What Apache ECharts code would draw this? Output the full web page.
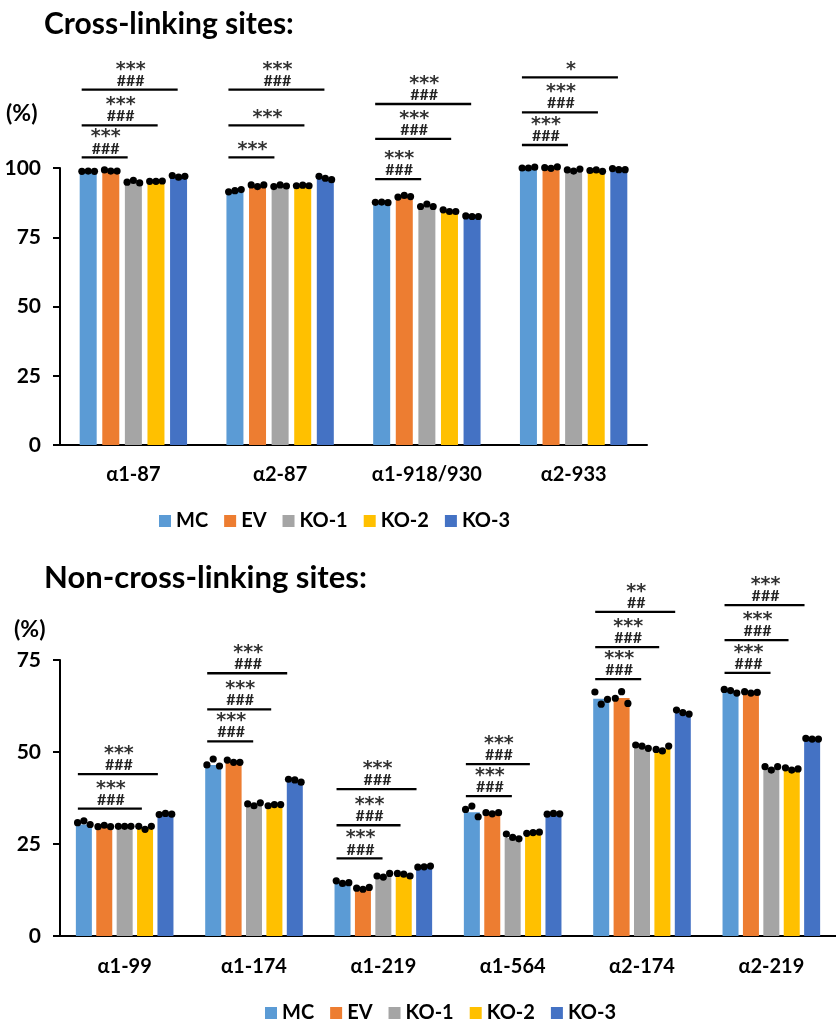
<!DOCTYPE html>
<html>
<head>
<meta charset="utf-8">
<script src="https://cdn.jsdelivr.net/npm/echarts@6/dist/echarts.min.js"></script>
<style>
html,body{margin:0;padding:0;background:#fff;}
#chart{width:836px;height:1021px;}
</style>
</head>
<body>
<div id="chart"></div>
<script>
// ---------- DATA ----------
const groups = ['MC', 'EV', 'KO-1', 'KO-2', 'KO-3'];
const colors = ['#5B9BD5', '#ED7D31', '#A5A5A5', '#FFC000', '#4472C4'];

// Cross-linking sites
const crossCats = ['α1-87', 'α2-87', 'α1-918/930', 'α2-933'];
const crossTicks = [0, 25, 50, 75, 100];
const crossMC  = [98.8, 91.8, 87.6, 99.7];
const crossEV  = [98.9, 93.7, 89.7, 99.6];
const crossKO1 = [94.8, 93.5, 86.3, 99.0];
const crossKO2 = [95.0, 93.5, 84.4, 98.9];
const crossKO3 = [97.0, 96.3, 82.5, 99.2];
const crossRepMC  = [[98.8, 98.9, 98.8], [91.4, 91.8, 92.2], [87.6, 87.7, 87.5], [100.0, 100.0, 100.3]];
const crossRepEV  = [[99.3, 98.9, 98.9], [93.9, 93.3, 93.9], [89.5, 90.1, 89.7], [100.1, 99.9, 100.4]];
const crossRepKO1 = [[94.9, 95.5, 94.6], [93.3, 93.9, 93.5], [86.1, 87.0, 86.1], [99.3, 98.9, 99.6]];
const crossRepKO2 = [[95.2, 95.2, 95.3], [93.6, 93.8, 93.6], [84.9, 84.3, 84.3], [99.1, 99.3, 98.8]];
const crossRepKO3 = [[97.3, 96.7, 97.0], [97.0, 96.3, 95.8], [82.7, 82.5, 82.5], [99.8, 99.4, 99.4]];
// significance brackets: [category index, target group index, bracket height (%), label]
const crossSig = [
  [0, 2, 103.8, '***\n###'], [0, 3, 115.4, '***\n###'], [0, 4, 128.3, '***\n###'],
  [1, 2, 103.8, '***'],      [1, 3, 115.4, '***'],      [1, 4, 128.3, '***\n###'],
  [2, 2, 96.0, '***\n###'],  [2, 3, 110.5, '***\n###'], [2, 4, 123.1, '***\n###'],
  [3, 2, 108.3, '***\n###'], [3, 3, 120.1, '***\n###'], [3, 4, 132.7, '*']
];

// Non-cross-linking sites
const nonCats = ['α1-99', 'α1-174', 'α1-219', 'α1-564', 'α2-174', 'α2-219'];
const nonTicks = [0, 25, 50, 75];
const nonMC  = [30.3, 46.5, 14.6, 33.6, 64.5, 66.6];
const nonEV  = [29.7, 47.2, 12.9, 33.1, 64.7, 66.1];
const nonKO1 = [29.8, 35.6, 16.4, 26.6, 51.4, 45.6];
const nonKO2 = [29.4, 35.4, 16.6, 27.8, 50.9, 45.3];
const nonKO3 = [33.0, 42.0, 18.7, 33.0, 60.6, 53.5];
const nonRepMC  = [[30.8, 31.3, 30.3], [46.5, 48.1, 46.2], [15.0, 14.3, 14.5], [34.4, 35.3, 32.4], [66.3, 63.0, 64.3], [67.0, 66.7, 66.0]];
const nonRepEV  = [[29.7, 30.1, 29.7], [47.8, 47.2, 47.2], [13.0, 12.7, 13.2], [33.5, 33.2, 33.5], [64.6, 66.4, 63.2], [66.4, 66.0, 66.2]];
const nonRepKO1 = [[29.8, 29.8, 29.8], [35.9, 35.4, 36.2], [16.3, 16.0, 17.0], [27.7, 26.8, 26.4], [51.9, 51.6, 51.0], [46.0, 45.1, 46.0]];
const nonRepKO2 = [[29.8, 29.0, 29.8], [35.4, 35.7, 35.7], [17.0, 16.8, 16.3], [27.9, 28.1, 28.2], [50.7, 50.3, 51.6], [45.7, 45.1, 45.4]];
const nonRepKO3 = [[33.0, 33.3, 33.1], [42.6, 42.4, 41.8], [18.7, 18.8, 19.0], [33.1, 33.3, 33.2], [61.4, 60.7, 60.3], [53.7, 53.5, 53.5]];
const nonSig = [
  [0, 3, 34.6, '***\n###'], [0, 4, 44.0, '***\n###'],
  [1, 2, 52.9, '***\n###'], [1, 3, 61.6, '***\n###'], [1, 4, 71.4, '***\n###'],
  [2, 2, 21.1, '***\n###'], [2, 3, 30.1, '***\n###'], [2, 4, 39.9, '***\n###'],
  [3, 2, 38.0, '***\n###'], [3, 3, 46.7, '***\n###'],
  [4, 2, 69.8, '***\n###'], [4, 3, 78.5, '***\n###'], [4, 4, 88.1, '**\n##'],
  [5, 2, 71.5, '***\n###'], [5, 3, 80.4, '***\n###'], [5, 4, 89.9, '***\n###']
];

// ---------- LAYOUT / STYLE ----------
const FONT = 'Lato';
const panels = [
  { cats: crossCats, ticks: crossTicks, max: 100,
    bars: [crossMC, crossEV, crossKO1, crossKO2, crossKO3],
    reps: [crossRepMC, crossRepEV, crossRepKO1, crossRepKO2, crossRepKO3],
    sig: crossSig,
    barW: 17, gapPx: 5.6, endOff: {2: 46, 3: 76, 4: 96},
    grid: { left: 60, top: 168, width: 587, height: 277 } },
  { cats: nonCats, ticks: nonTicks, max: 75,
    bars: [nonMC, nonEV, nonKO1, nonKO2, nonKO3],
    reps: [nonRepMC, nonRepEV, nonRepKO1, nonRepKO2, nonRepKO3],
    sig: nonSig,
    barW: 16, gapPx: 4.4, endOff: {2: 46, 3: 64, 4: 80},
    grid: { left: 60, top: 660, width: 787, height: 276 } }
];

const grids = [], xAxes = [], yAxes = [], series = [];
panels.forEach((p, pi) => {
  grids.push(Object.assign({ containLabel: false }, p.grid));
  xAxes.push({
    type: 'category', gridIndex: pi, data: p.cats,
    axisLine: { lineStyle: { color: '#000', width: 2 } },
    axisTick: { show: false },
    axisLabel: { color: '#000', fontFamily: FONT, fontWeight: 'bold', fontSize: 20, margin: pi === 0 ? 20 : 21 }
  });
  yAxes.push({
    type: 'value', gridIndex: pi, min: 0, max: p.max, interval: 25,
    splitLine: { show: false },
    axisLine: { show: true, lineStyle: { color: '#000', width: 2 } },
    axisTick: { show: true, length: 7, lineStyle: { color: '#000', width: 2 } },
    axisLabel: { color: '#000', fontFamily: FONT, fontWeight: 'bold', fontSize: 21, margin: 19 }
  });
  const pitch = p.barW + p.gapPx;
  groups.forEach((g, gi) => {
    series.push({
      name: g, type: 'bar', xAxisIndex: pi, yAxisIndex: pi,
      data: p.bars[gi], barWidth: p.barW, barGap: (p.gapPx / p.barW * 100).toFixed(1) + '%',
      itemStyle: { color: colors[gi] }, z: 2, silent: true
    });
  });
  // replicate dots
  const dots = [];
  p.reps.forEach((rep, gi) => rep.forEach((vals, ci) => vals.forEach((v, ri) => dots.push([ci, v, gi, ri]))));
  series.push({
    type: 'custom', xAxisIndex: pi, yAxisIndex: pi, z: 5, silent: true,
    data: dots, encode: { x: 0, y: 1 },
    renderItem: (params, api) => {
      const pt = api.coord([api.value(0), api.value(1)]);
      const x = pt[0] + (api.value(2) - 2) * pitch + (api.value(3) - 1) * 6.3;
      return { type: 'circle', shape: { cx: x, cy: pt[1], r: 3.6 }, style: { fill: '#000' } };
    }
  });
  // significance brackets
  series.push({
    type: 'custom', xAxisIndex: pi, yAxisIndex: pi, z: 6, silent: true, clip: false,
    data: p.sig.map(s => [s[0], s[2], s[1]]), encode: { x: 0, y: 1 },
    renderItem: (params, api) => {
      const pt = api.coord([api.value(0), api.value(1)]);
      const x0 = pt[0] - 2 * pitch - p.barW / 2 + 2;
      const x1 = x0 + p.endOff[api.value(2)];
      const cx = (x0 + x1) / 2 + 1;
      const lines = p.sig[params.dataIndex][3].split('\n');
      const kids = [
        { type: 'line', shape: { x1: x0, y1: pt[1], x2: x1, y2: pt[1] }, style: { stroke: '#000', lineWidth: 2.3 } }
      ];
      const starY = lines.length > 1 ? pt[1] - 20 : pt[1] - 7;
      kids.push({ type: 'text', style: { text: lines[0], x: cx, y: starY, align: 'center', verticalAlign: 'middle',
        fontFamily: 'DejaVu Sans', fontWeight: 'bold', fontSize: 19, fill: '#333' } });
      if (lines.length > 1) {
        kids.push({ type: 'text', style: { text: lines[1], x: cx, y: pt[1] - 9, align: 'center', verticalAlign: 'middle',
          fontFamily: FONT, fontWeight: 'bold', fontSize: 16, fill: '#222' } });
      }
      return { type: 'group', children: kids };
    }
  });
});

const chart = echarts.init(document.getElementById('chart'), null, { renderer: 'canvas' });
chart.setOption({
  backgroundColor: '#fff',
  animation: false,
  title: [
    { text: 'Cross-linking sites:', left: 39, top: 4, textStyle: { fontFamily: FONT, fontWeight: 'bold', fontSize: 30, color: '#000' } },
    { text: '(%)', left: 1, top: 97, textStyle: { fontFamily: FONT, fontWeight: 'bold', fontSize: 23, color: '#000' } },
    { text: 'Non-cross-linking sites:', left: 39, top: 557, textStyle: { fontFamily: FONT, fontWeight: 'bold', fontSize: 31, color: '#000' } },
    { text: '(%)', left: 9, top: 613, textStyle: { fontFamily: FONT, fontWeight: 'bold', fontSize: 23, color: '#000' } }
  ],
  legend: [
    { data: groups, left: 154, top: 506, icon: 'rect', itemWidth: 12, itemHeight: 12, itemGap: 16, selectedMode: false,
      textStyle: { fontFamily: FONT, fontWeight: 'bold', fontSize: 20, color: '#000' } },
    { data: groups, left: 260, top: 998, icon: 'rect', itemWidth: 12, itemHeight: 12, itemGap: 16, selectedMode: false,
      textStyle: { fontFamily: FONT, fontWeight: 'bold', fontSize: 20, color: '#000' } }
  ],
  grid: grids, xAxis: xAxes, yAxis: yAxes, series: series
});
</script>
</body>
</html>
